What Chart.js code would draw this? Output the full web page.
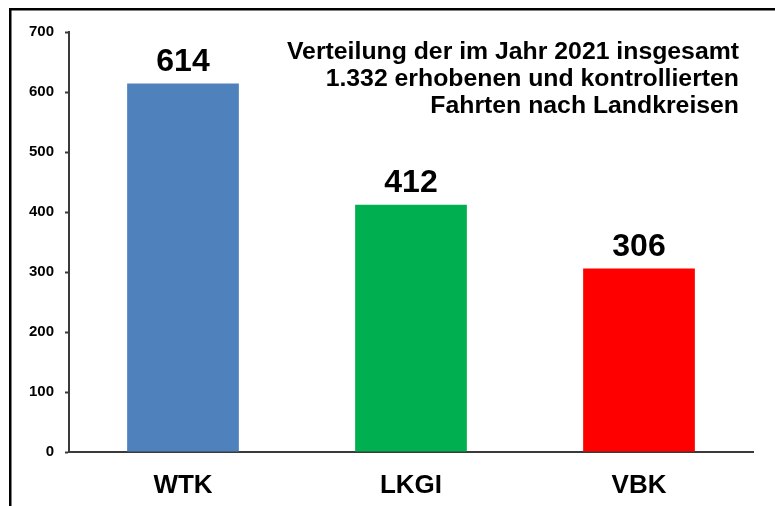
<!DOCTYPE html>
<html>
<head>
<meta charset="utf-8">
<script src="https://cdn.jsdelivr.net/npm/chart.js@4/dist/chart.umd.min.js"></script>
<style>
  html, body { margin: 0; padding: 0; background: #fff; }
  #wrap { position: relative; width: 775px; height: 506px; }
</style>
</head>
<body>
<div id="wrap"><canvas id="c" width="775" height="506"></canvas></div>
<script>
const categories = ['WTK', 'LKGI', 'VBK'];
const values = [614, 412, 306];
const barColors = ['#4F81BD', '#00B050', '#FF0000'];
const titleLines = [
  'Verteilung der im Jahr 2021 insgesamt',
  '1.332 erhobenen und kontrollierten',
  'Fahrten nach Landkreisen'
];
const yMin = 0, yMax = 700, yStep = 100;

const FONT = "'Liberation Sans', Arial, sans-serif";

const framePlugin = {
  id: 'frame',
  beforeDraw(chart) {
    const ctx = chart.ctx;
    ctx.save();
    ctx.fillStyle = '#fff';
    ctx.fillRect(0, 0, chart.width, chart.height);
    ctx.fillStyle = '#000';
    ctx.fillRect(9, 8, chart.width, 2.5);
    ctx.fillRect(9, 8, 2.5, chart.height);
    ctx.restore();
  }
};

const valueLabels = {
  id: 'valueLabels',
  afterDatasetsDraw(chart) {
    const ctx = chart.ctx;
    const meta = chart.getDatasetMeta(0);
    ctx.save();
    ctx.font = 'bold 32px ' + FONT;
    ctx.fillStyle = '#000';
    ctx.textAlign = 'center';
    ctx.textBaseline = 'alphabetic';
    meta.data.forEach((bar, i) => {
      ctx.fillText(String(chart.data.datasets[0].data[i]), bar.x, bar.y - 12.5);
    });
    ctx.restore();
  }
};

const titlePlugin = {
  id: 'rightTitle',
  afterDraw(chart) {
    const ctx = chart.ctx;
    ctx.save();
    ctx.font = 'bold 24.8px ' + FONT;
    ctx.fillStyle = '#000';
    ctx.textAlign = 'right';
    ctx.textBaseline = 'alphabetic';
    titleLines.forEach((t, i) => {
      ctx.fillText(t, 739, 59.3 + i * 26.8);
    });
    ctx.restore();
  }
};

new Chart(document.getElementById('c'), {
  type: 'bar',
  data: {
    labels: categories,
    datasets: [{
      data: values,
      backgroundColor: barColors,
      borderWidth: 0,
      barPercentage: 0.49,
      categoryPercentage: 1.0
    }]
  },
  options: {
    responsive: false,
    animation: false,
    devicePixelRatio: 1,
    layout: { padding: { top: 32, right: 22, left: 0, bottom: 0 } },
    plugins: {
      legend: { display: false },
      tooltip: { enabled: false },
      title: { display: false }
    },
    scales: {
      x: {
        grid: { display: false, drawTicks: false },
        border: { display: true, color: '#3a3a3a', width: 2 },
        ticks: {
          color: '#000',
          font: { family: FONT, size: 26, weight: 'bold' },
          padding: 18,
          maxRotation: 0
        },
        afterFit(scale) { scale.height = 54; }
      },
      y: {
        min: yMin,
        max: yMax,
        grid: {
          drawOnChartArea: false,
          drawTicks: true,
          tickLength: 4,
          tickColor: '#3a3a3a',
          tickWidth: 2
        },
        border: { display: true, color: '#3a3a3a', width: 2 },
        ticks: {
          stepSize: yStep,
          color: '#000',
          font: { family: FONT, size: 15, weight: 'bold' },
          padding: 11
        },
        afterFit(scale) { scale.width = 69; }
      }
    }
  },
  plugins: [framePlugin, valueLabels, titlePlugin]
});
</script>
</body>
</html>
